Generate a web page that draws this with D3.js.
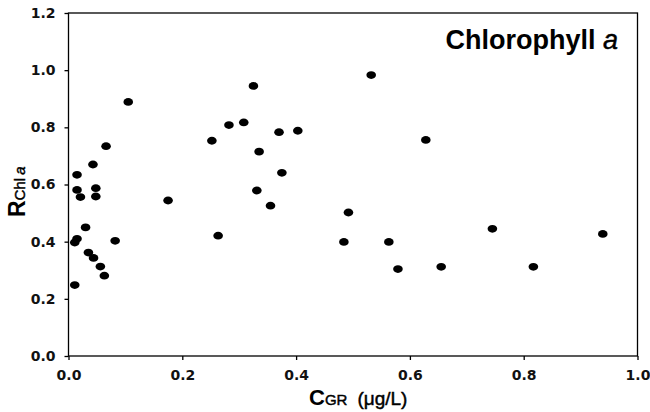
<!DOCTYPE html>
<html>
<head>
<meta charset="utf-8">
<script src="https://cdn.jsdelivr.net/npm/d3@7"></script>
<style>
  html, body { margin: 0; padding: 0; background: #fff; }
  svg { display: block; }
  .tick-label { font-family: "DejaVu Sans", sans-serif; font-weight: bold; font-size: 14px; fill: #111; }
  .axis-title { font-family: "Liberation Sans", Arial, sans-serif; fill: #000; }
  .semi { stroke: #000; stroke-width: 0.45px; }
</style>
</head>
<body>
<div id="chart"></div>
<script>
// C_GR (µg/L) on x, R_Chl a on y
const cgr = [
  0.105, 0.066, 0.043, 0.015, 0.015, 0.021, 0.048, 0.048,
  0.030, 0.015, 0.011, 0.082, 0.035, 0.044, 0.056, 0.063, 0.011,
  0.325, 0.282, 0.308, 0.370, 0.403, 0.252, 0.335, 0.375, 0.331, 0.355, 0.175, 0.263,
  0.532, 0.628, 0.492, 0.484, 0.563, 0.579, 0.655, 0.745, 0.817, 0.939
];
const rchl = [
  0.889, 0.734, 0.670, 0.634, 0.581, 0.556, 0.587, 0.558,
  0.450, 0.410, 0.397, 0.403, 0.362, 0.343, 0.313, 0.281, 0.248,
  0.945, 0.808, 0.817, 0.783, 0.788, 0.753, 0.715, 0.641, 0.579, 0.526, 0.544, 0.421,
  0.983, 0.756, 0.502, 0.399, 0.399, 0.304, 0.312, 0.445, 0.312, 0.427
];
const xTicks = [0, 0.2, 0.4, 0.6, 0.8, 1.0];
const yTicks = [0, 0.2, 0.4, 0.6, 0.8, 1.0, 1.2];

const width = 650, height = 412;
const margin = { top: 13, right: 12.5, bottom: 56, left: 68.5 };

const svg = d3.select('#chart').append('svg')
  .attr('width', width)
  .attr('height', height);

const x = d3.scaleLinear().domain([0, 1]).range([margin.left, width - margin.right]);
const y = d3.scaleLinear().domain([0, 1.2]).range([height - margin.bottom, margin.top]);

// ── frame ──────────────────────────────────────────
svg.append('rect')
  .attr('x', x(0)).attr('y', y(1.2))
  .attr('width', x(1) - x(0)).attr('height', y(0) - y(1.2))
  .attr('fill', 'none')
  .attr('stroke', '#000')
  .attr('stroke-width', 1.3);

// ── axes ───────────────────────────────────────────
const xAxis = svg.append('g')
  .attr('transform', `translate(0,${y(0)})`)
  .call(d3.axisBottom(x).tickValues(xTicks).tickSize(4).tickPadding(10).tickFormat(d3.format('.1f')));

const yAxis = svg.append('g')
  .attr('transform', `translate(${x(0)},0)`)
  .call(d3.axisLeft(y).tickValues(yTicks).tickSize(4).tickPadding(9).tickFormat(d3.format('.1f')));

[xAxis, yAxis].forEach(a => {
  a.select('.domain').remove();
  a.selectAll('.tick line').attr('stroke', '#000').attr('stroke-width', 1.3);
  a.selectAll('.tick text').attr('class', 'tick-label').attr('fill', null);
});

// ── points ─────────────────────────────────────────
svg.append('g').selectAll('ellipse')
  .data(d3.zip(cgr, rchl))
  .join('ellipse')
  .attr('cx', d => x(d[0]))
  .attr('cy', d => y(d[1]))
  .attr('rx', 4.8)
  .attr('ry', 3.9)
  .attr('fill', '#000');

// ── title ──────────────────────────────────────────
const title = svg.append('text')
  .attr('class', 'axis-title')
  .attr('x', 618).attr('y', 49)
  .attr('text-anchor', 'end')
  .attr('font-size', 27);
title.append('tspan').attr('font-weight', 'bold').text('Chlorophyll ');
title.append('tspan').attr('font-style', 'italic').attr('class', 'semi').text('a');

// ── x title ────────────────────────────────────────
const xt = svg.append('text')
  .attr('class', 'axis-title')
  .attr('x', 309).attr('y', 405);
xt.append('tspan').attr('font-size', 22).attr('font-weight', 'bold').text('C');
xt.append('tspan').attr('font-size', 15).attr('class', 'semi').text('GR');
xt.append('tspan').attr('font-size', 19).attr('class', 'semi').attr('dx', 10).text('(μg/L)');

// ── y title ────────────────────────────────────────
const yt = svg.append('text')
  .attr('class', 'axis-title')
  .attr('transform', 'translate(25,217) rotate(-90)');
yt.append('tspan').attr('font-size', 23).attr('font-weight', 'bold').text('R');
yt.append('tspan').attr('font-size', 15).attr('class', 'semi').text('Chl');
yt.append('tspan').attr('font-size', 15).attr('font-style', 'italic').attr('class', 'semi').attr('dx', 3).text('a');
</script>
</body>
</html>
